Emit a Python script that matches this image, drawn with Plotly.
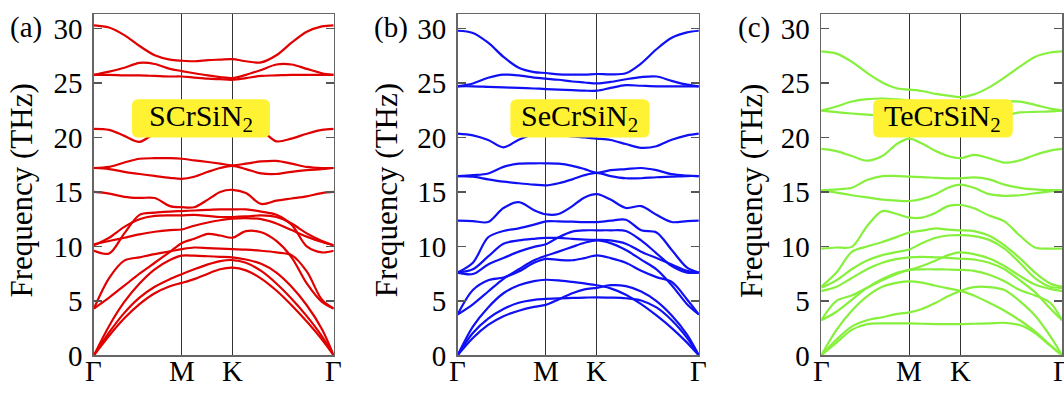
import plotly.graph_objects as go

# ---- k-path sample positions (Γ-M-K-Γ, hexagonal BZ) ----
K_PATH = [0, 0.1, 0.2, 0.3, 0.4, 0.5, 0.577, 0.66, 0.75, 0.83, 0.911, 1.0,
          1.1, 1.2, 1.3, 1.4, 1.5, 1.577]
HSP_POS = [0, 0.577, 0.911, 1.577]
HSP_LABELS = ["Γ", "M", "K", "Γ"]
Y_TICKS = [0, 5, 10, 15, 20, 25, 30]
PANEL_TAGS = ["(a)", "(b)", "(c)"]
COMPOUNDS = ["SCrSiN<sub>2</sub>", "SeCrSiN<sub>2</sub>", "TeCrSiN<sub>2</sub>"]

# ---- (a) SCrSiN2 phonon bands (THz) ----
bands_SCrSiN2 = [
    [0, 1.8, 3.4, 4.7, 5.7, 6.35, 6.65, 7.0, 7.5, 7.9, 8.05, 7.8, 7.05, 5.95, 4.6, 3.1, 1.45, 0],
    [0, 2.1, 3.9, 5.3, 6.3, 7.0, 7.45, 7.9, 8.35, 8.65, 8.75, 8.5, 7.75, 6.6, 5.2, 3.6, 1.75, 0],
    [0, 2.7, 4.9, 6.6, 7.9, 8.75, 9.15, 9.15, 9.1, 9.05, 9.0, 8.8, 8.4, 7.6, 6.3, 4.6, 2.4, 0],
    [4.3, 7.1, 8.7, 9.0, 9.3, 9.55, 9.75, 9.9, 9.85, 9.8, 9.75, 9.7, 9.6, 9.45, 9.2, 7.7, 5.1, 4.3],
    [4.3, 5.3, 6.4, 7.5, 8.5, 9.5, 10.3, 10.7, 11.15, 11.0, 10.8, 11.4, 11.3, 10.5, 9.0, 6.6, 4.9, 4.3],
    [9.6, 9.35, 11.2, 12.9, 13.1, 13.2, 13.25, 13.3, 13.35, 13.4, 13.4, 13.4, 13.2, 12.9, 12.0, 10.0, 9.45, 9.6],
    [10.1, 10.8, 11.8, 12.5, 12.8, 12.85, 12.85, 12.9, 12.8, 12.7, 12.7, 12.75, 12.85, 12.7, 12.1, 11.2, 10.5, 10.1],
    [10.2, 10.5, 10.8, 11.1, 11.35, 11.5, 11.55, 11.9, 12.2, 12.4, 12.55, 12.6, 12.5, 12.1, 11.5, 10.9, 10.4, 10.1],
    [15.0, 14.85, 14.55, 14.45, 14.45, 13.7, 13.6, 13.6, 14.3, 15.0, 15.2, 14.9, 13.9, 14.2, 14.4, 14.6, 14.9, 15.0],
    [17.2, 17.1, 16.85, 16.65, 16.47, 16.3, 16.2, 16.4, 16.85, 17.2, 17.4, 17.1, 16.7, 16.65, 16.85, 17.0, 17.1, 17.2],
    [17.2, 17.3, 17.7, 18.05, 18.1, 18.1, 18.05, 17.9, 17.75, 17.6, 17.45, 17.6, 17.8, 17.85, 17.6, 17.3, 17.2, 17.2],
    [20.8, 20.7, 20.15, 19.6, 20.4, 21.0, 21.2, 21.2, 21.0, 20.8, 20.6, 20.5, 20.6, 19.65, 19.9, 20.35, 20.7, 20.8],
    [25.75, 25.75, 25.7, 25.7, 25.65, 25.6, 25.6, 25.5, 25.4, 25.35, 25.3, 25.45, 25.65, 25.7, 25.75, 25.75, 25.75, 25.75],
    [25.75, 26.05, 26.4, 26.85, 26.75, 26.3, 26.1, 25.9, 25.7, 25.55, 25.45, 25.75, 26.2, 26.7, 26.7, 26.3, 25.9, 25.75],
    [30.3, 30.1, 29.4, 28.4, 27.55, 27.15, 27.05, 27.0, 27.1, 27.15, 27.2, 27.0, 26.9, 27.55, 28.7, 29.7, 30.2, 30.3],
]

# ---- (b) SeCrSiN2 phonon bands (THz) ----
bands_SeCrSiN2 = [
    [0, 1.6, 2.8, 3.6, 4.1, 4.45, 4.63, 5.13, 5.7, 6.06, 6.2, 6.44, 6.35, 5.86, 4.98, 3.66, 1.9, 0],
    [0, 2.05, 3.37, 4.25, 4.83, 5.1, 5.18, 5.24, 5.27, 5.3, 5.33, 5.3, 5.24, 5.04, 4.4, 3.22, 1.6, 0],
    [0, 2.64, 4.4, 5.7, 6.44, 6.82, 6.94, 6.88, 6.74, 6.6, 6.44, 6.15, 5.57, 4.7, 3.66, 2.5, 1.17, 0],
    [3.75, 6.0, 6.9, 7.15, 7.7, 8.5, 8.85, 8.76, 8.73, 8.93, 9.17, 8.93, 8.5, 7.76, 7.18, 6.74, 5.13, 3.75],
    [3.75, 4.69, 5.86, 7.03, 7.9, 8.73, 9.14, 9.52, 9.96, 10.34, 10.55, 10.3, 9.67, 8.79, 7.9, 6.44, 4.69, 3.75],
    [7.6, 8.5, 10.84, 11.42, 11.66, 12.0, 12.3, 12.3, 12.27, 12.24, 12.24, 12.36, 12.45, 11.48, 11.28, 9.67, 8.05, 7.6],
    [7.6, 7.9, 9.08, 10.25, 10.55, 10.7, 10.78, 10.78, 10.7, 10.63, 10.6, 10.55, 10.25, 9.52, 8.93, 8.35, 7.76, 7.6],
    [7.6, 7.47, 8.35, 8.93, 9.52, 9.96, 10.2, 10.84, 11.36, 11.48, 11.48, 11.48, 11.42, 10.55, 9.37, 8.2, 7.6, 7.6],
    [12.36, 12.33, 12.24, 13.53, 14.06, 13.33, 12.95, 12.98, 13.7, 14.5, 14.8, 14.3, 13.53, 13.7, 12.9, 12.24, 12.33, 12.36],
    [16.46, 16.4, 16.16, 15.95, 15.8, 15.67, 15.6, 15.8, 16.16, 16.54, 16.75, 16.46, 16.26, 16.26, 16.35, 16.4, 16.46, 16.46],
    [16.46, 16.54, 16.7, 17.3, 17.6, 17.63, 17.63, 17.6, 17.4, 17.1, 16.76, 17.0, 17.1, 17.2, 17.0, 16.63, 16.5, 16.46],
    [20.36, 20.2, 19.77, 19.1, 19.8, 20.3, 20.4, 20.3, 20.1, 20.0, 19.9, 19.77, 19.4, 19.05, 19.2, 19.8, 20.2, 20.36],
    [24.7, 24.7, 24.65, 24.6, 24.55, 24.5, 24.45, 24.4, 24.35, 24.3, 24.3, 24.55, 24.8, 24.75, 24.7, 24.7, 24.7, 24.7],
    [24.7, 24.96, 25.48, 25.77, 25.7, 25.5, 25.4, 25.3, 25.14, 25.05, 24.96, 25.1, 25.35, 25.55, 25.6, 25.2, 24.85, 24.7],
    [29.8, 29.6, 28.7, 27.4, 26.4, 26.0, 25.92, 25.8, 25.77, 25.77, 25.83, 25.8, 25.9, 26.8, 28.1, 29.15, 29.65, 29.8],
]

# ---- (c) TeCrSiN2 phonon bands (THz) ----
bands_TeCrSiN2 = [
    [0, 1.17, 2.34, 2.87, 2.93, 2.93, 2.93, 2.9, 2.87, 2.87, 2.87, 2.9, 2.93, 2.99, 2.78, 2.05, 0.88, 0],
    [0, 1.46, 2.64, 3.22, 3.5, 3.8, 3.95, 4.25, 4.83, 5.42, 5.92, 6.27, 6.27, 6.0, 4.98, 3.66, 1.76, 0],
    [0, 2.34, 4.1, 5.42, 6.3, 6.68, 6.8, 6.68, 6.39, 6.15, 5.92, 5.5, 4.83, 4.1, 3.22, 2.2, 0.94, 0],
    [3.22, 5.0, 5.5, 6.2, 6.9, 7.5, 7.85, 7.9, 7.9, 7.88, 7.85, 7.76, 7.4, 6.8, 6.0, 5.5, 4.83, 3.22],
    [3.22, 4.0, 5.1, 6.2, 7.0, 7.6, 7.85, 8.2, 8.7, 9.2, 9.46, 9.3, 8.9, 8.2, 7.3, 6.5, 6.1, 5.9],
    [6.3, 7.6, 9.5, 10.0, 10.4, 10.9, 11.28, 11.45, 11.65, 11.55, 11.48, 11.4, 10.98, 10.1, 8.93, 7.6, 6.6, 6.3],
    [6.2, 6.9, 7.9, 8.7, 9.2, 9.5, 9.72, 10.3, 10.8, 11.0, 11.04, 10.95, 10.6, 9.8, 8.5, 7.1, 6.3, 6.2],
    [5.9, 6.3, 7.1, 7.9, 8.5, 8.85, 9.0, 9.05, 9.0, 8.95, 8.87, 8.8, 8.5, 7.9, 6.9, 5.8, 4.3, 3.22],
    [9.8, 9.9, 9.96, 11.86, 13.24, 12.95, 12.65, 12.65, 13.1, 13.7, 13.8, 13.5, 12.83, 12.3, 11.0, 9.9, 9.8, 9.8],
    [15.14, 14.94, 14.7, 14.5, 14.3, 14.2, 14.17, 14.37, 14.8, 15.38, 15.67, 15.38, 14.8, 14.65, 14.7, 14.88, 15.05, 15.14],
    [15.14, 15.23, 15.38, 16.1, 16.46, 16.46, 16.4, 16.37, 16.3, 16.25, 16.25, 16.34, 16.16, 15.67, 15.38, 15.23, 15.17, 15.14],
    [18.95, 18.75, 18.3, 17.88, 18.3, 19.45, 19.9, 19.45, 18.75, 18.3, 18.1, 18.4, 18.1, 17.7, 17.9, 18.4, 18.8, 18.95],
    [22.47, 22.33, 22.2, 22.1, 22.0, 21.9, 21.85, 21.85, 21.8, 21.8, 21.8, 21.85, 21.9, 22.0, 22.3, 22.35, 22.4, 22.47],
    [22.47, 22.85, 23.3, 23.52, 23.58, 23.5, 23.4, 23.3, 23.2, 23.1, 23.0, 23.1, 23.25, 23.3, 23.3, 23.0, 22.65, 22.47],
    [27.9, 27.7, 26.95, 25.93, 25.05, 24.5, 24.4, 24.27, 24.0, 23.85, 23.7, 23.96, 24.6, 25.5, 26.5, 27.4, 27.8, 27.9],
]

PANEL_BANDS = [bands_SCrSiN2, bands_SeCrSiN2, bands_TeCrSiN2]
LINE_COLORS = ["#E00000", "#1010F5", "#86F03C"]

# ---- layout geometry (pixels of a 1064x402 canvas) ----
W, H = 1064, 402
X_DOMAINS = [(94, 334), (458, 699.5), (822, 1063)]
Y_TOP, Y_BOT = 14, 370
TAG_X = [26, 391, 755]
TITLE_X = [22, 387, 752]
BOX_X = [(0.25, 1.158), (0.345, 1.255), (0.34, 1.255)]
BOX_Y = (20.0, 23.5)

FONT = "Liberation Serif"

fig = go.Figure()


def rounded_box(x0, x1, y0, y1, rx, ry):
    return (f"M {x0+rx},{y0} L {x1-rx},{y0} Q {x1},{y0} {x1},{y0+ry} "
            f"L {x1},{y1-ry} Q {x1},{y1} {x1-rx},{y1} L {x0+rx},{y1} "
            f"Q {x0},{y1} {x0},{y1-ry} L {x0},{y0+ry} Q {x0},{y0} {x0+rx},{y0} Z")


for i, bands in enumerate(PANEL_BANDS):
    sfx = "" if i == 0 else str(i + 1)
    for b in bands:
        fig.add_trace(go.Scatter(
            x=K_PATH, y=b, mode="lines",
            line=dict(color=LINE_COLORS[i], width=2.2, shape="spline", smoothing=0.9),
            xaxis="x" + sfx, yaxis="y" + sfx, showlegend=False, hoverinfo="skip"))

    d0, d1 = X_DOMAINS[i]
    fig.update_layout(**{
        "xaxis" + sfx: dict(
            domain=[d0 / W, d1 / W], range=[0, HSP_POS[-1]],
            tickvals=HSP_POS, showticklabels=False, ticks="",
            showgrid=True, gridcolor="#333333", gridwidth=1, zeroline=False,
            showline=True, mirror=True, linecolor="#666666", linewidth=1.6,
            anchor="y" + sfx, fixedrange=True),
        "yaxis" + sfx: dict(
            domain=[1 - Y_BOT / H, 1 - Y_TOP / H], range=[0, 31.3],
            tickvals=Y_TICKS, ticks="inside", ticklen=8, tickwidth=1.6,
            tickcolor="#555555", showgrid=False, zeroline=False,
            showline=True, mirror="ticks", linecolor="#666666", linewidth=1.6,
            tickfont=dict(family=FONT, size=29, color="black"),
            ticklabelstandoff=4,
            anchor="x" + sfx, fixedrange=True),
    })

    for pos, lab in zip(HSP_POS, HSP_LABELS):
        fig.add_annotation(x=pos, y=1 - 386 / H, xref="x" + sfx, yref="paper",
                           text=lab, showarrow=False, xanchor="center",
                           yanchor="middle",
                           font=dict(family=FONT, size=29, color="black"))

    bx0, bx1 = BOX_X[i]
    fig.add_shape(type="path", xref="x" + sfx, yref="y" + sfx,
                  path=rounded_box(bx0, bx1, BOX_Y[0], BOX_Y[1], 0.045, 0.6),
                  fillcolor="#FFF233", line=dict(width=0), layer="above")
    fig.add_annotation(x=(bx0 + bx1) / 2, y=(BOX_Y[0] + BOX_Y[1]) / 2,
                       xref="x" + sfx, yref="y" + sfx, text=COMPOUNDS[i],
                       showarrow=False, xanchor="center", yanchor="middle",
                       font=dict(family=FONT, size=30, color="black"))
    fig.add_annotation(x=TAG_X[i] / W, y=1 - 28 / H, xref="paper", yref="paper",
                       text=PANEL_TAGS[i], showarrow=False, xanchor="center",
                       yanchor="middle", font=dict(family=FONT, size=29, color="black"))
    fig.add_annotation(x=TITLE_X[i] / W, y=1 - 198 / H, xref="paper", yref="paper",
                       text="Frequency (THz)", showarrow=False, textangle=-90,
                       xanchor="center", yanchor="middle",
                       font=dict(family=FONT, size=31, color="black"))

fig.update_layout(width=W, height=H, margin=dict(l=0, r=0, t=0, b=0),
                  paper_bgcolor="white", plot_bgcolor="white",
                  font=dict(family=FONT))

fig.write_html("out.html",
               config={"displayModeBar": False, "staticPlot": True},
               post_script="document.body.style.margin='0';"
                           "document.body.style.overflow='hidden';")
